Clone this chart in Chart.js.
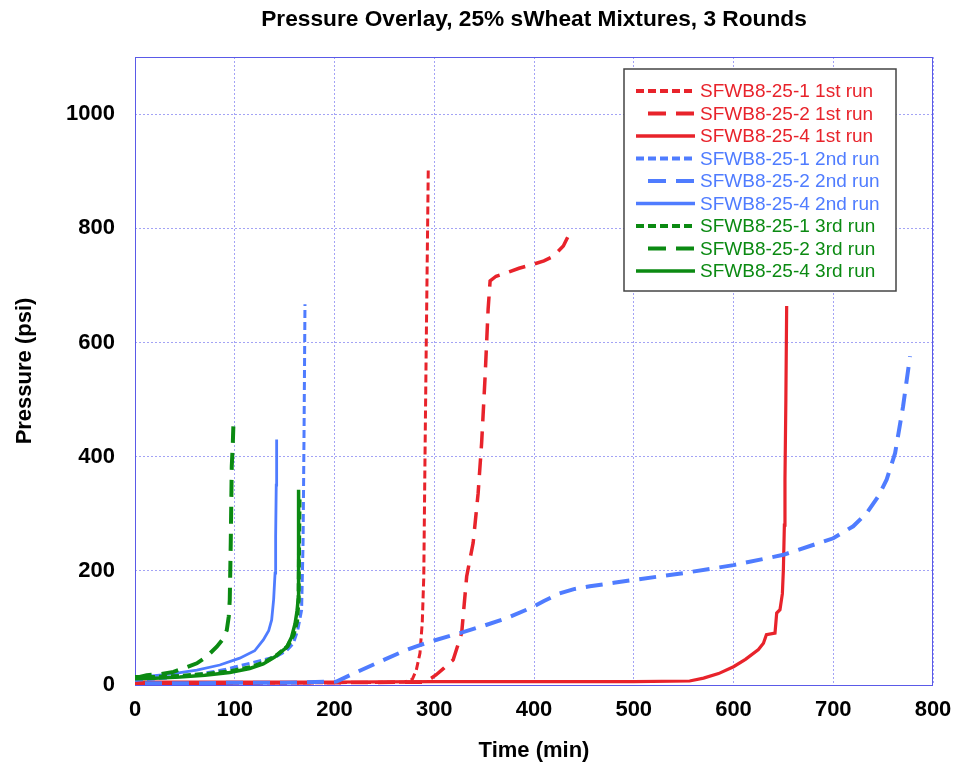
<!DOCTYPE html>
<html>
<head>
<meta charset="utf-8">
<script src="https://cdn.jsdelivr.net/npm/chart.js@4.4.1/dist/chart.umd.min.js"></script>
<style>
html, body { margin: 0; padding: 0; background: #fff; }
</style>
</head>
<body>
<canvas id="pressureChart" width="955" height="767"></canvas>
<script>
// series names, as in the legend
const seriesLabels = [
  'SFWB8-25-1 1st run', 'SFWB8-25-2 1st run', 'SFWB8-25-4 1st run',
  'SFWB8-25-1 2nd run', 'SFWB8-25-2 2nd run', 'SFWB8-25-4 2nd run',
  'SFWB8-25-1 3rd run', 'SFWB8-25-2 3rd run', 'SFWB8-25-4 3rd run'
];

// 1st run (red)
const t251Run1 = [0, 100, 200, 270, 278, 282, 285.7, 288, 289.5, 290.7, 292, 293, 294];
const p251Run1 = [3, 3, 4, 5, 10, 26, 56, 110, 190, 395, 600, 750, 903];
const t252Run1 = [0, 100, 200, 290, 297, 302, 310, 319, 327.5, 332.5, 339, 344, 347.5, 351, 354, 356, 362, 372.6, 385, 399.3, 410, 419.4, 429.4, 436];
const p252Run1 = [3, 3, 4, 5, 12, 18, 30, 44, 91, 190, 249, 336, 424, 541, 658, 708, 716, 722, 730, 737, 743, 751, 769, 792];
const t254Run1 = [0, 100, 200, 300, 400, 500, 556, 570, 585, 600, 612, 625, 630, 633, 641.6, 643.3, 646.6, 649, 650, 651, 651.6, 652.5, 653.3];
const p254Run1 = [5, 5, 5, 6, 6, 6, 7, 12, 20, 32, 45, 62, 73, 88, 91, 126, 132, 160, 202, 280, 360, 500, 664];

// 2nd run (blue)
const t251Run2 = [0, 30, 60, 90, 115, 142, 152, 158.7, 163, 167, 168.5, 169.5, 170.4];
const p251Run2 = [8, 12, 18, 27, 38, 50, 60, 73, 95, 131, 250, 450, 667];
const t252Run2 = [10, 50, 100, 150, 202, 219, 245.6, 270, 285.7, 300, 325.8, 350, 372.6, 399.3, 410, 425, 440, 456, 480, 500, 550, 600, 650, 700, 720, 733.5, 745, 753.6, 762, 770, 777];
const p252Run2 = [3, 3, 4, 4, 6, 20, 41, 60, 70, 78, 91, 104, 117, 137, 147, 160, 168, 173, 179, 184, 196, 210, 228, 257, 278, 301, 330, 360, 406, 488, 576];
const t254Run2 = [0, 11.7, 35, 62, 85, 105, 120, 128.6, 134, 137, 139, 140.4, 141, 141.6, 142];
const p254Run2 = [12, 15, 19, 26, 35, 47, 60, 79, 95, 114, 150, 196, 260, 350, 430];

// 3rd run (green)
const t251Run3 = [0, 20, 45, 70, 95, 115, 130, 142, 153, 159, 162.5, 164, 164.5, 165];
const p251Run3 = [14, 14, 16, 19, 24, 31, 40, 52, 68, 88, 112, 150, 250, 330];
const t252Run3 = [0, 11.7, 25, 38.5, 50, 62, 72, 82, 88, 92, 94, 95, 96, 97, 98, 98.6];
const p252Run3 = [12, 17, 19, 23, 30, 38, 50, 67, 80, 96, 120, 149, 250, 383, 420, 453];
const t254Run3 = [0, 20, 45, 70, 95, 115, 128.6, 140, 152, 157, 160.4, 162.5, 163.5, 164];
const p254Run3 = [11, 12, 14, 17, 22, 29, 37, 49, 66, 84, 107, 130, 149, 342];

const xTicks = [0, 100, 200, 300, 400, 500, 600, 700, 800];
const yTicks = [0, 200, 400, 600, 800, 1000];

const RED = '#e8232b', BLUE = '#4f7cff', GREEN = '#0b8a12';
const SHORT = [8, 4], LONG = [17, 10];

const times = [t251Run1, t252Run1, t254Run1, t251Run2, t252Run2, t254Run2, t251Run3, t252Run3, t254Run3];
const pressures = [p251Run1, p252Run1, p254Run1, p251Run2, p252Run2, p254Run2, p251Run3, p252Run3, p254Run3];
const colors = [RED, RED, RED, BLUE, BLUE, BLUE, GREEN, GREEN, GREEN];
const dashes = [SHORT, LONG, [], SHORT, LONG, [], SHORT, LONG, []];
const widths = [3, 3.5, 3.2, 3, 4, 2.8, 4, 4, 3.5];

const datasets = seriesLabels.map((label, i) => ({
  label: label,
  data: times[i].map((t, j) => ({ x: t, y: pressures[i][j] })),
  borderColor: colors[i],
  backgroundColor: colors[i],
  borderDash: dashes[i],
  borderWidth: widths[i],
  pointRadius: 0,
  tension: 0,
  fill: false,
  order: seriesLabels.length - i   // later series drawn on top
}));

const FONT = "'Liberation Sans', Arial, sans-serif";

// frame around the plot + chart title centred over the plot
const frameAndTitle = {
  id: 'frameAndTitle',
  beforeDatasetsDraw(chart) {
    const { ctx, chartArea: a } = chart;
    ctx.save();
    ctx.strokeStyle = '#5a5ae8';
    ctx.lineWidth = 1;
    ctx.strokeRect(a.left + 0.5, a.top + 0.5, a.right - a.left - 1, a.bottom - a.top);
    ctx.restore();
  },
  afterDraw(chart) {
    const { ctx, chartArea: a } = chart;
    ctx.save();
    ctx.fillStyle = '#000';
    ctx.font = 'bold 22.7px ' + FONT;
    ctx.textAlign = 'center';
    ctx.textBaseline = 'middle';
    ctx.fillText('Pressure Overlay, 25% sWheat Mixtures, 3 Rounds', (a.left + a.right) / 2, 20);
    ctx.restore();
  }
};

// boxed legend in the upper right, built from the datasets
const boxLegend = {
  id: 'boxLegend',
  afterDatasetsDraw(chart) {
    const ctx = chart.ctx;
    const x0 = 624, y0 = 69, w = 272, h = 222;
    ctx.save();
    ctx.fillStyle = '#fff';
    ctx.fillRect(x0, y0, w, h);
    ctx.strokeStyle = '#444';
    ctx.lineWidth = 1.5;
    ctx.strokeRect(x0, y0, w, h);
    ctx.font = '19px ' + FONT;
    ctx.textBaseline = 'middle';
    ctx.textAlign = 'left';
    chart.data.datasets.forEach((ds, i) => {
      const y = 91 + i * 22.5;
      const isLong = ds.borderDash.length && ds.borderDash[0] > 10;
      ctx.beginPath();
      ctx.strokeStyle = ds.borderColor;
      ctx.lineWidth = ds.borderDash.length ? 4 : 3.5;
      ctx.setLineDash(isLong ? [18, 10] : ds.borderDash);
      ctx.moveTo(isLong ? 648 : 636, y);
      ctx.lineTo(695, y);
      ctx.stroke();
      ctx.setLineDash([]);
      ctx.fillStyle = ds.borderColor;
      ctx.fillText(ds.label, 700, y + 1);
    });
    ctx.restore();
  }
};

new Chart(document.getElementById('pressureChart'), {
  type: 'line',
  data: { datasets: datasets },
  options: {
    responsive: false,
    animation: false,
    layout: { padding: { left: 0, right: 22, top: 57, bottom: 0 } },
    plugins: {
      legend: { display: false },
      title: { display: false },
      tooltip: { enabled: false }
    },
    scales: {
      x: {
        type: 'linear',
        min: 0, max: 800,
        afterFit(scale) { scale.height = 82; scale.paddingLeft = 0; scale.paddingRight = 0; },
        afterBuildTicks(scale) { scale.ticks = xTicks.map(v => ({ value: v })); },
        grid: { color: '#a3a3f5', lineWidth: 1, drawTicks: false },
        border: { display: false, dash: [2, 2] },
        ticks: { color: '#000', padding: 12, maxRotation: 0, callback: v => String(v), font: { family: FONT, size: 22, weight: 'bold' } },
        title: { display: true, text: 'Time (min)', color: '#000', padding: { top: 0, bottom: 3 }, font: { family: FONT, size: 22, weight: 'bold' } }
      },
      y: {
        type: 'linear',
        min: 0, max: 1100,
        afterFit(scale) { scale.width = 135; scale.paddingTop = 0; scale.paddingBottom = 0; },
        afterBuildTicks(scale) { scale.ticks = yTicks.map(v => ({ value: v })); },
        grid: { color: '#a3a3f5', lineWidth: 1, drawTicks: false },
        border: { display: false, dash: [2, 2] },
        ticks: { color: '#000', padding: 20, callback: v => String(v), font: { family: FONT, size: 22, weight: 'bold' } },
        title: { display: true, text: 'Pressure (psi)', color: '#000', padding: { top: 12, bottom: 0 }, font: { family: FONT, size: 22, weight: 'bold' } }
      }
    }
  },
  plugins: [frameAndTitle, boxLegend]
});
</script>
</body>
</html>
